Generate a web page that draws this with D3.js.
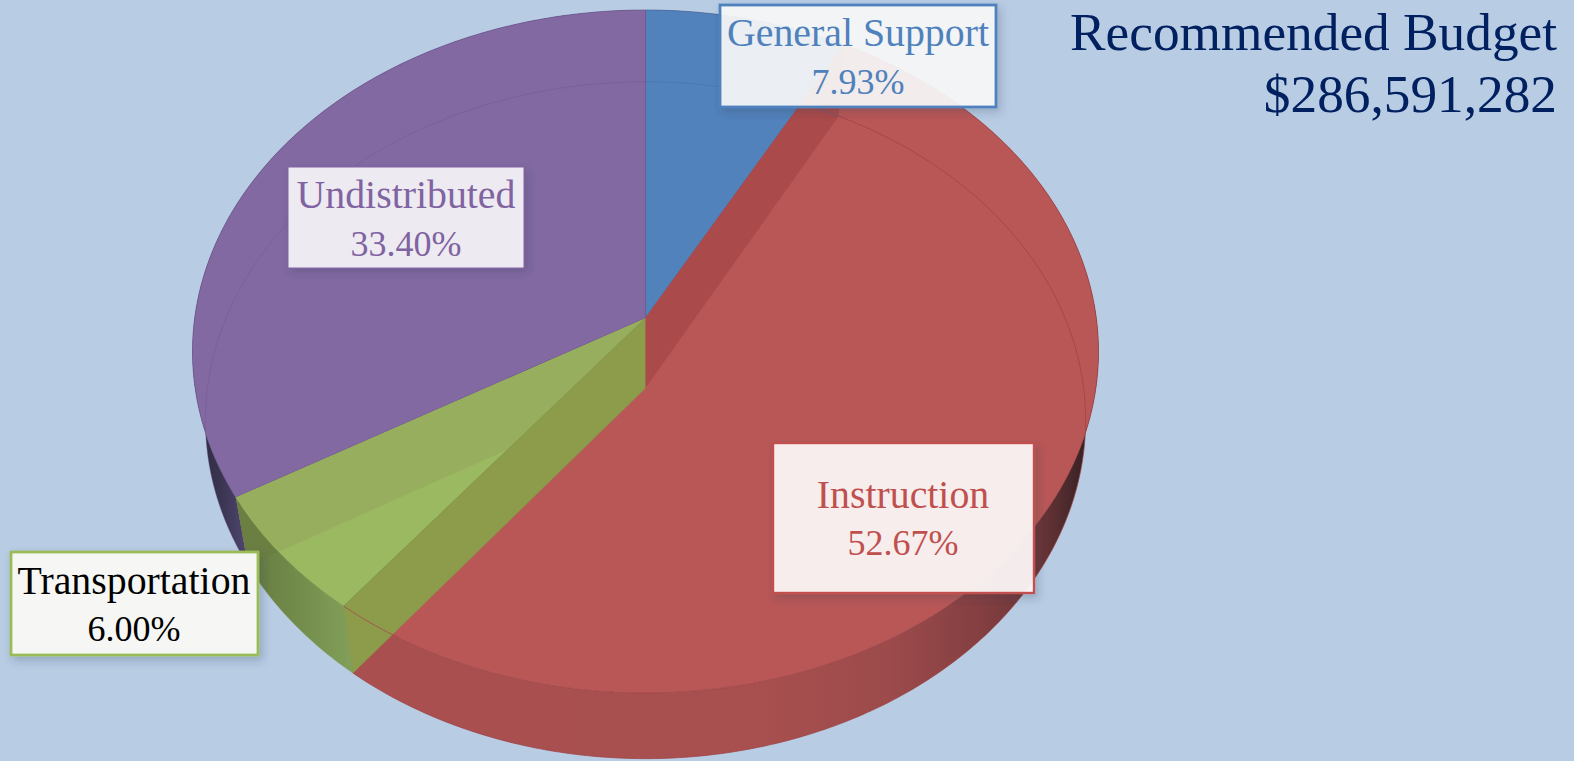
<!DOCTYPE html>
<html lang="en">
<head>
<meta charset="utf-8">
<title>Recommended Budget</title>
<script src="https://d3js.org/d3.v7.min.js"></script>
<style>
  html, body { margin: 0; padding: 0; background: #b8cce4; overflow: hidden; }
  svg { display: block; }
  text { font-family: "Liberation Serif", serif; }
</style>
</head>
<body>
<svg width="1574" height="761"></svg>
<script>
// data
var categories = ["General Support", "Instruction", "Transportation", "Undistributed"];
var shares = [7.93, 52.67, 6.00, 33.40];
var titleLines = ["Recommended Budget", "$286,591,282"];

// colours, same order as categories
var faceColors = ["#5282bc", "#b95757", "#9bb960", "#8269a2"];
var lineColors = ["#41699c", "#9c3f3f", "#7f9a48", "#6d558c"];
var labelBorders = ["#4f81bd", "#c0504d", "#9bbb59", "#8064a2"];
var labelText = ["#4f81bd", "#c0504d", "#000000", "#8064a2"];
var labelFills = ["#f6f7f8", "#fbf5f5", "#f6f7f4", "#f6f3f8"];
var labelAlpha = [0.93, 0.95, 1, 0.93];
var borderWidths = [2.8, 2.4, 2.8, 1];

// layout of the callout boxes, same order as categories
var boxes = [
  {x: 720, y: 5, w: 276, h: 102, cx: 858, base: [46, 94]},
  {x: 773, y: 443, w: 261, h: 150, cx: 903, base: [508, 555]},
  {x: 11, y: 552, w: 247, h: 103, cx: 134, base: [594, 641]},
  {x: 288, y: 167, w: 236, h: 101, cx: 406, base: [208, 256]}
];

// perspective of the tilted disc, depth 0 is the top face, depth 1 the bottom face
var px = 645.5, py = 318, d = 450.8, a = 338.2, c = 0.0981, e = 0.029, b = 72;
function project(t, z) {
  var u = Math.sin(t), v = Math.cos(t), w = 1 + c * v + e * z;
  return [px + d * u / w, py + (-a * v + b * z) / w];
}
function centre(z) { return [px, py + b * z / (1 + e * z)]; }
function rim(t0, t1, z) {
  var n = Math.max(2, Math.ceil((t1 - t0) * 80));
  return d3.range(n + 1).map(function (i) { return project(t0 + (t1 - t0) * i / n, z); });
}

var line = d3.line();
var svg = d3.select("svg");
var defs = svg.append("defs");

svg.append("rect").attr("width", 1574).attr("height", 761).attr("fill", "#b8cce4");

var slices = d3.pie().sort(null)(shares);

// outer wall shading
var wallStops = [
  [[0, "#a84f4f"], [1, "#a84f4f"]],
  [[0, "#a94f4f"], [0.55, "#a84f4f"], [0.72, "#9c4a4b"], [0.84, "#843f41"], [0.92, "#6a3538"], [0.97, "#402528"], [1, "#241a1c"]],
  [[0, "#657a42"], [0.5, "#728c4b"], [1, "#82a05a"]],
  [[0, "#2e2b40"], [0.5, "#3b3552"], [1, "#4f4570"]]
];
var wallRange = [[640, 860], [353, 1100], [243, 353], [198, 246]];
wallStops.forEach(function (stops, i) {
  var g = defs.append("linearGradient").attr("id", "wall" + i)
    .attr("gradientUnits", "userSpaceOnUse")
    .attr("x1", wallRange[i][0]).attr("x2", wallRange[i][1]).attr("y1", 0).attr("y2", 0);
  stops.forEach(function (s) { g.append("stop").attr("offset", s[0]).attr("stop-color", s[1]); });
});

// shadow only outside the box so the see through fill stays clean
var f = defs.append("filter").attr("id", "shadow")
  .attr("x", "-10%").attr("y", "-15%").attr("width", "125%").attr("height", "135%");
f.append("feGaussianBlur").attr("in", "SourceAlpha").attr("stdDeviation", 4.5).attr("result", "blur");
f.append("feOffset").attr("in", "blur").attr("dx", 3).attr("dy", 4).attr("result", "off");
f.append("feFlood").attr("flood-color", "#303a50").attr("flood-opacity", 0.26);
f.append("feComposite").attr("in2", "off").attr("operator", "in").attr("result", "sh");
f.append("feComposite").attr("in", "sh").attr("in2", "SourceAlpha").attr("operator", "out").attr("result", "outer");
var merge = f.append("feMerge");
merge.append("feMergeNode").attr("in", "outer");
merge.append("feMergeNode").attr("in", "SourceGraphic");

// outer walls
svg.append("g").selectAll("path").data(slices).enter().append("path")
  .attr("d", function (s) {
    return line(rim(s.startAngle, s.endAngle, 0).concat(rim(s.startAngle, s.endAngle, 1).reverse())) + "Z";
  })
  .attr("fill", function (s, i) { return "url(#wall" + i + ")"; });

// green cut wall against purple, seen below the top rim
var gp = slices[2].endAngle;
svg.append("path")
  .attr("d", line([centre(0), project(gp, 0), project(gp, 1), centre(1)]) + "Z")
  .attr("fill", "#6b7f43");

// top faces
function faceD(s) {
  return line([centre(0)].concat(rim(s.startAngle, s.endAngle, 0))) + "Z";
}
svg.append("g").selectAll("path").data(slices).enter().append("path")
  .attr("d", faceD)
  .attr("fill", function (s, i) { return faceColors[i]; })
  .attr("stroke", function (s, i) { return lineColors[i]; })
  .attr("stroke-width", 0.7);

// cut walls seen through the top
defs.append("clipPath").attr("id", "greenFace").append("path").attr("d", faceD(slices[2]));
svg.append("path")
  .attr("clip-path", "url(#greenFace)")
  .attr("d", line([centre(0), project(gp, 0), project(gp, 1), centre(1)]) + "Z")
  .attr("fill", "#97ae5e");

var rg = slices[1].endAngle, br = slices[0].endAngle;
svg.append("path")
  .attr("d", line([centre(0), project(rg, 0), project(rg, 1), centre(1)]) + "Z")
  .attr("fill", "#8c9c4b")
  .attr("stroke", "#84994a").attr("stroke-width", 0.7);
svg.append("path")
  .attr("d", line([centre(0), project(br, 0), project(br, 1), centre(1)]) + "Z")
  .attr("fill", "#ab4a4a");

// red rim crossing the olive wall
svg.append("path")
  .attr("d", line(rim(rg - 0.14, rg, 0)))
  .attr("fill", "none").attr("stroke", "#a8484a").attr("stroke-width", 0.8);

// bottom face outline, faint through the top
svg.append("g").selectAll("path").data(slices).enter().append("path")
  .attr("d", function (s) { return line(rim(s.startAngle, s.endAngle, 1)); })
  .attr("fill", "none")
  .attr("stroke", function (s, i) { return lineColors[i]; })
  .attr("stroke-opacity", function (s, i) { return i == 1 ? 0.7 : 0.4; })
  .attr("stroke-width", 1);

// callouts
var labels = svg.append("g").selectAll("g").data(categories).enter().append("g");
labels.append("rect")
  .attr("x", function (n, i) { return boxes[i].x; })
  .attr("y", function (n, i) { return boxes[i].y; })
  .attr("width", function (n, i) { return boxes[i].w; })
  .attr("height", function (n, i) { return boxes[i].h; })
  .attr("fill", function (n, i) { return labelFills[i]; })
  .attr("fill-opacity", function (n, i) { return labelAlpha[i]; })
  .attr("stroke", function (n, i) { return labelBorders[i]; })
  .attr("stroke-width", function (n, i) { return borderWidths[i]; })
  .attr("filter", "url(#shadow)");
labels.append("text")
  .attr("x", function (n, i) { return boxes[i].cx; })
  .attr("y", function (n, i) { return boxes[i].base[0]; })
  .attr("text-anchor", "middle").attr("font-size", 39.8)
  .attr("fill", function (n, i) { return labelText[i]; })
  .text(function (n) { return n; });
labels.append("text")
  .attr("x", function (n, i) { return boxes[i].cx; })
  .attr("y", function (n, i) { return boxes[i].base[1]; })
  .attr("text-anchor", "middle").attr("font-size", 36)
  .attr("fill", function (n, i) { return labelText[i]; })
  .text(function (n, i) { return shares[i].toFixed(2) + "%"; });

// title
svg.append("g").selectAll("text").data(titleLines).enter().append("text")
  .attr("x", 1557)
  .attr("y", function (t, i) { return 50 + i * 62; })
  .attr("text-anchor", "end").attr("font-size", 53.3)
  .attr("fill", "#002060")
  .text(function (t) { return t; });
</script>
</body>
</html>
